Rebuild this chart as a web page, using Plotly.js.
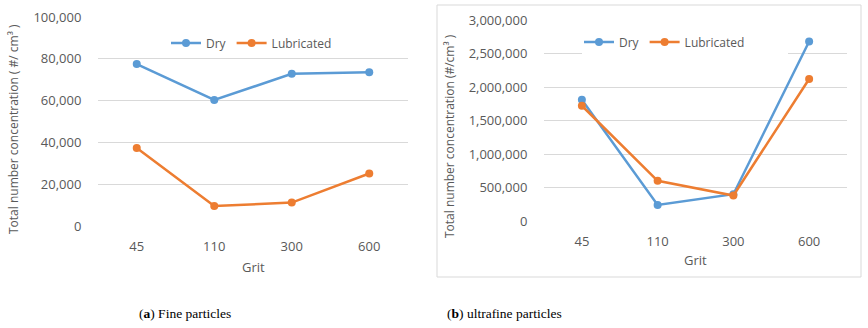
<!DOCTYPE html>
<html>
<head>
<meta charset="utf-8">
<script src="https://cdn.plot.ly/plotly-3.0.1.min.js"></script>
<style>html,body{margin:0;padding:0;background:#fff;}#chart{width:868px;height:328px;}</style>
</head>
<body>
<div id="chart"></div>
<script>
// Data
const grit = ["45", "110", "300", "600"];
const fineDry = [77500, 60300, 72800, 73600];
const fineLub = [37300, 9600, 11200, 25100];
const ultraDry = [1810000, 240000, 400000, 2680000];
const ultraLub = [1720000, 600000, 380000, 2120000];
const seriesNames = ["Dry", "Lubricated"];
const yTitleA = "Total number concentration ( #/ cm³ )";
const yTitleB = "Total number concentration (#/cm³ )";
const xTitle = "Grit";
const captionA = "(<b>a</b>) Fine particles";
const captionB = "(<b>b</b>) ultrafine particles";

const W = 868, H = 328;
const px = v => v / W;
const py = v => 1 - v / H;

const blue = "#5B9BD5", orange = "#ED7D31";
const txt = "#595959", grid = "#D9D9D9";
const font = "Open Sans, sans-serif";

function tr(y, name, color, xa, ya, legend) {
  return {
    x: grit, y: y, name: name, type: "scatter", mode: "lines+markers",
    xaxis: xa, yaxis: ya, legend: legend,
    line: {color: color, width: 2.5},
    marker: {color: color, size: 8}
  };
}

const data = [
  tr(fineDry, seriesNames[0], blue, "x", "y", "legend"),
  tr(fineLub, seriesNames[1], orange, "x", "y", "legend"),
  tr(ultraDry, seriesNames[0], blue, "x2", "y2", "legend2"),
  tr(ultraLub, seriesNames[1], orange, "x2", "y2", "legend2")
];

const xBase = {
  type: "category", range: [-0.5, 3.5], showgrid: false, zeroline: false, showline: false,
  ticks: "outside", ticklen: 8, tickcolor: "rgba(0,0,0,0)",
  tickfont: {family: font, size: 13, color: txt}, fixedrange: true
};
const yBase = {
  showgrid: true, gridcolor: grid, gridwidth: 1, zeroline: false, showline: false,
  ticks: "outside", ticklen: 13, tickcolor: "rgba(0,0,0,0)", tickformat: ",d",
  tickfont: {family: font, size: 13, color: txt}, fixedrange: true
};

const legBase = {
  orientation: "h", xanchor: "left", yanchor: "middle",
  font: {family: font, size: 12, color: txt}, bgcolor: "rgba(0,0,0,0)",
  itemwidth: 30, tracegroupgap: 0
};

const layout = {
  width: W, height: H,
  margin: {l: 0, r: 0, t: 0, b: 0},
  paper_bgcolor: "#fff", plot_bgcolor: "rgba(0,0,0,0)",
  showlegend: true,
  xaxis: Object.assign({}, xBase, {domain: [px(98), px(408)], anchor: "y"}),
  yaxis: Object.assign({}, yBase, {domain: [py(226), py(17)], anchor: "x", range: [0, 100000], dtick: 20000}),
  xaxis2: Object.assign({}, xBase, {domain: [px(544), px(847)], anchor: "y2"}),
  yaxis2: Object.assign({}, yBase, {domain: [py(221), py(20)], anchor: "x2", range: [0, 3000000], dtick: 500000}),
  legend: Object.assign({}, legBase, {x: px(166), y: py(43)}),
  legend2: Object.assign({}, legBase, {x: px(579), y: py(42)}),
  shapes: [
    {type: "rect", xref: "paper", yref: "paper", x0: px(437), x1: px(861), y0: py(277), y1: py(5),
     line: {color: grid, width: 1}, fillcolor: "rgba(0,0,0,0)", layer: "below"},
    {type: "rect", xref: "paper", yref: "paper", x0: px(582), x1: px(788), y0: py(57), y1: py(17),
     line: {width: 0}, fillcolor: "#fff", layer: "above"}
  ],
  annotations: [
    {text: yTitleA, xref: "paper", yref: "paper", x: px(13), y: py(129), textangle: -90, showarrow: false,
     xanchor: "center", yanchor: "middle", font: {family: font, size: 12, color: txt}},
    {text: yTitleB, xref: "paper", yref: "paper", x: px(450), y: py(136), textangle: -90, showarrow: false,
     xanchor: "center", yanchor: "middle", font: {family: font, size: 12, color: txt}},
    {text: xTitle, xref: "paper", yref: "paper", x: px(253), y: py(267), showarrow: false,
     xanchor: "center", yanchor: "middle", font: {family: font, size: 13, color: txt}},
    {text: xTitle, xref: "paper", yref: "paper", x: px(695), y: py(260), showarrow: false,
     xanchor: "center", yanchor: "middle", font: {family: font, size: 13, color: txt}},
    {text: captionA, xref: "paper", yref: "paper", x: px(185), y: py(313), showarrow: false,
     xanchor: "center", yanchor: "middle", font: {family: "Liberation Serif, serif", size: 13.5, color: "#000"}},
    {text: captionB, xref: "paper", yref: "paper", x: px(504), y: py(313), showarrow: false,
     xanchor: "center", yanchor: "middle", font: {family: "Liberation Serif, serif", size: 13.5, color: "#000"}}
  ]
};

Plotly.newPlot("chart", data, layout, {staticPlot: true, displayModeBar: false});
</script>
</body>
</html>
